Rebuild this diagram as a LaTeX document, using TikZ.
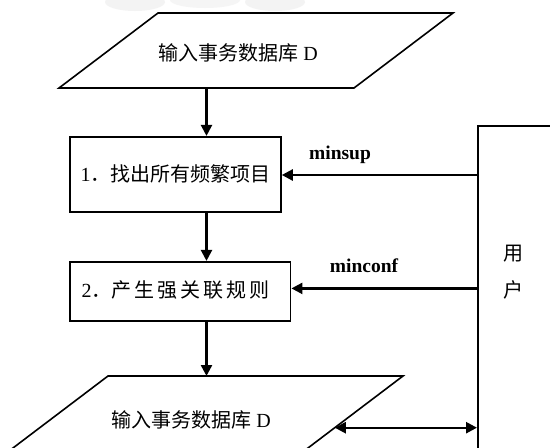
\documentclass[tikz,border=0pt]{standalone}
\usepackage{fontspec}
\setmainfont{Liberation Serif}
\newfontfamily\cjk{Noto Sans CJK SC}
\newfontfamily\cjkwide{Noto Sans CJK SC}[LetterSpace=15]
\usetikzlibrary{arrows.meta}
\begin{document}
\begin{tikzpicture}[x=1pt,y=-1pt,
  shapeline/.style={line width=1.6pt, line join=miter},
  arr/.style={line width=2.4pt, -{Triangle[length=11pt,width=11pt]}},
  darr/.style={line width=2.4pt, {Triangle[length=11pt,width=11pt]}-{Triangle[length=11pt,width=11pt]}},
  txt/.style={font=\fontsize{20pt}{22pt}\selectfont, inner sep=0pt},
  lab/.style={font=\fontsize{19.5pt}{21pt}\selectfont\bfseries, inner sep=0pt},
  box/.style={draw, line width=1.6pt, inner sep=0pt}
]
\useasboundingbox (0,0) rectangle (550,448);
\clip (0,0) rectangle (550,448);
\fill[white] (0,0) rectangle (550,448);
% faint smudge at the top edge
\begin{scope}
  \clip (0,0) rectangle (550,12);
  \fill[gray!50, opacity=.18] (135,2) ellipse (30 and 9);
  \fill[gray!50, opacity=.15] (205,0) ellipse (35 and 8);
  \fill[gray!50, opacity=.18] (275,2) ellipse (30 and 9);
\end{scope}

% top parallelogram
\draw[shapeline] (158,13) -- (453,13) -- (354,88) -- (59,88) -- cycle;
\node[txt] (in1) at (238,52.5) {{\cjk 输入事务数据库}\hspace{5pt}D};

% boxes
\node[box, minimum width=211pt, minimum height=75pt, font=\fontsize{20pt}{22pt}\selectfont] (b1) at (175.5,174.2) {1{\cjk ．找出所有频繁项目}};
\node[box, minimum width=220.7pt, minimum height=59pt] (b2) at (180.3,291.2) {};
\node[txt] (t2) at (175.5,290) {2{\cjk ．}{\cjkwide 产生强关联规则}};

% user box
\node[box, minimum width=120pt, minimum height=400pt, anchor=north west] (user) at (477,125) {};
\node[txt] (u1) at (513,254) {\cjk 用};
\node[txt] (u2) at (513,290) {\cjk 户};

% bottom parallelogram
\draw[shapeline] (108,376) coordinate (p2top) -- (403,376) -- (304,451) -- (9,451) -- cycle;
\node[txt] (in2) at (191,420) {{\cjk 输入事务数据库}\hspace{5pt}D};

% vertical arrows
\coordinate (p1) at (206.5,88);
\draw[arr] (p1) -- (p1 |- b1.north);
\draw[arr] (p1 |- b1.south) -- (p1 |- b2.north);
\draw[arr] (p1 |- b2.south) -- (p1 |- p2top);

% arrows from user
\coordinate (s1) at (477,175);
\draw[arr] (user.west |- s1) -- (b1.east |- s1);
\coordinate (s2) at (477,288.4);
\draw[arr] (user.west |- s2) -- (b2.east |- s2);
\coordinate (s3) at (334.8,427.7);
\draw[darr] (s3) -- (user.west |- s3);

% labels
\node[lab] (ms) at (340,155) {minsup};
\node[lab] (mc) at (364,266) {minconf};
\end{tikzpicture}
\end{document}
